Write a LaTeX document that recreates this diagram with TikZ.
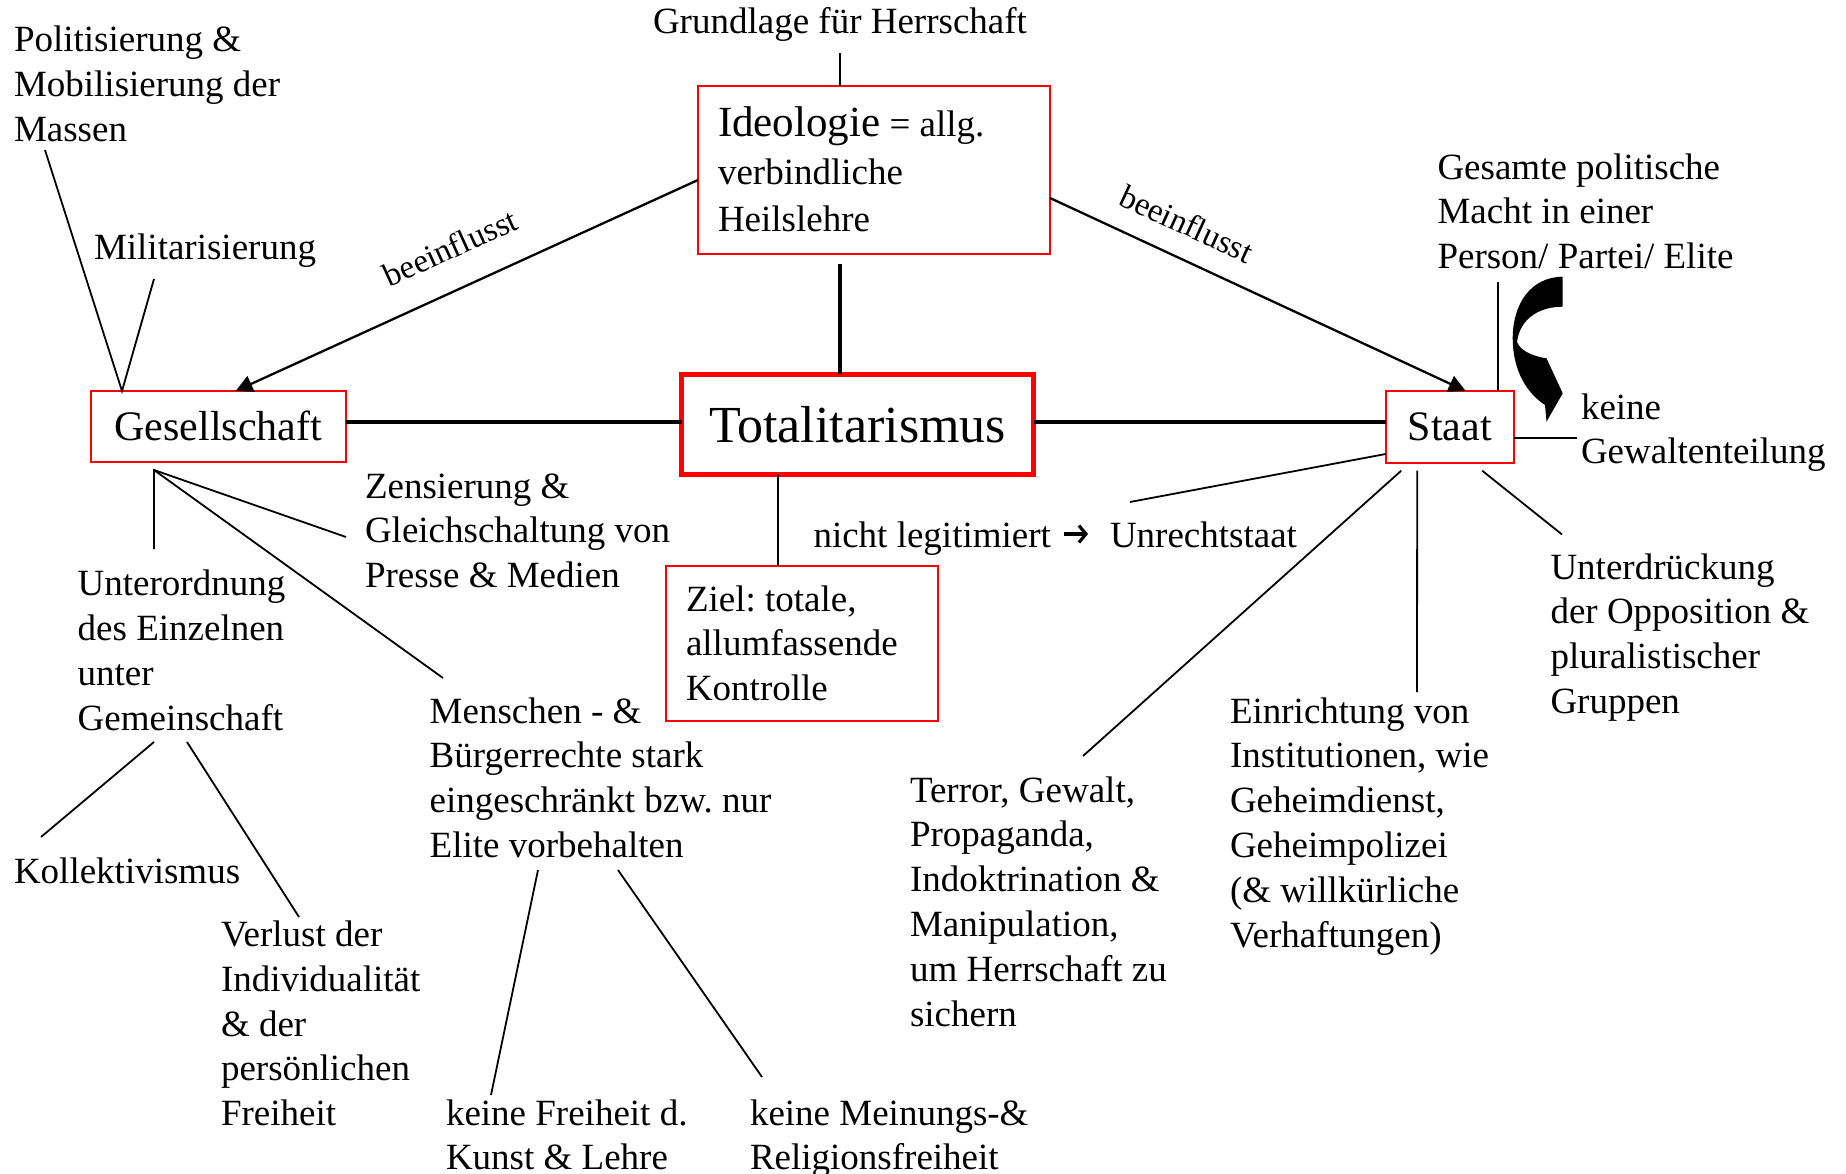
\documentclass[tikz,border=0pt]{standalone}
\usepackage{fontspec}
\setmainfont{Liberation Serif}
\usetikzlibrary{calc,arrows.meta}
\frenchspacing
\begin{document}
\begin{tikzpicture}[x=1pt,y=-1pt,
  txt/.style={inner sep=0pt, outer sep=0pt, anchor=base west, align=left, font=\fontsize{37}{44.8}\selectfont},
  rbox/.style={draw=red, line width=2pt, inner sep=0pt, outer sep=0pt, anchor=north west},
  conn/.style={line width=1.8pt},
  heavy/.style={line width=4.3pt},
  arr/.style={line width=2.3pt, -{Triangle[length=17pt,width=17pt]}},
  larr/.style={line width=3.2pt, -{Straight Barb[length=7pt,width=17pt,line width=3.2pt]}},
  blbl/.style={inner sep=0pt, anchor=base, font=\fontsize{33}{38}\selectfont}]
\useasboundingbox (0,0) rectangle (1846,1174);
\fill[white] (0,0) rectangle (1846,1174);

% boxes
\node[rbox, minimum width=352pt, minimum height=168pt] (ideo) at (698,86) {};
\node[rbox, line width=5pt, minimum width=352pt, minimum height=100pt, font=\fontsize{52}{60}\selectfont] (total) at (681.6,374.4) {Totalitarismus};
\node[rbox, minimum width=255.4pt, minimum height=70.5pt, font=\fontsize{42}{48}\selectfont] (ges) at (90.6,391) {Gesellschaft};
\node[rbox, minimum width=128.3pt, minimum height=71.7pt, font=\fontsize{42}{48}\selectfont] (staat) at (1385.7,391) {Staat};
\node[rbox, minimum width=272pt, minimum height=154.5pt] (ziel) at (666,566) {};

% texts (anchor = baseline of the LAST line)
\node[txt] (grund) at (653,34) {Grundlage für Herrschaft};
\node[txt, font=\fontsize{37}{47.5}\selectfont] (ideot) at (718,232) {{\fontsize{43}{47.5}\selectfont Ideologie} = allg.\\verbindliche\\Heilslehre};
\node[txt] (polit) at (14,141.6) {Politisierung \&\\Mobilisierung der\\Massen};
\node[txt] (milit) at (94,259) {Militarisierung};
\node[txt] (gesamt) at (1437.5,268.6) {Gesamte politische\\Macht in einer\\Person/ Partei/ Elite};
\node[txt] (keine) at (1581,463.8) {keine\\Gewaltenteilung};
\node[txt] (zens) at (365,587.6) {Zensierung \&\\Gleichschaltung von\\Presse \& Medien};
\node[txt] (legitA) at (813.5,547.5) {nicht legitimiert};
\node[txt] (legitB) at (1110,547.5) {Unrechtstaat};
\node[txt] (unter) at (77.7,730.1) {Unterordnung\\des Einzelnen\\unter\\Gemeinschaft};
\node[txt] (zielt) at (686,700.6) {Ziel: totale,\\allumfassende\\Kontrolle};
\node[txt] (unterd) at (1550.5,713.4) {Unterdrückung\\der Opposition \&\\pluralistischer\\Gruppen};
\node[txt] (mensch) at (429.7,857.4) {Menschen - \&\\Bürgerrechte stark\\eingeschränkt bzw. nur\\Elite vorbehalten};
\node[txt] (einr) at (1230,947) {Einrichtung von\\Institutionen, wie\\Geheimdienst,\\Geheimpolizei\\(\& willkürliche\\Verhaftungen)};
\node[txt] (terror) at (910,1026) {Terror, Gewalt,\\Propaganda,\\Indoktrination \&\\Manipulation,\\um Herrschaft zu\\sichern};
\node[txt] (koll) at (14,883) {Kollektivismus};
\node[txt] (verl) at (221,1125.7) {Verlust der\\Individualität\\\& der\\persönlichen\\Freiheit};
\node[txt] (kfrei) at (446,1169.8) {keine Freiheit d.\\Kunst \& Lehre};
\node[txt] (kmein) at (750,1169.8) {keine Meinungs-\&\\Religionsfreiheit};

% beeinflusst labels
\node[blbl, rotate=24.5] (bl1) at (455,258) {beeinflusst};
\node[blbl, rotate=-24.7] (bl2) at (1182,234) {beeinflusst};

% free ends
\coordinate (pA) at (45,150);
\coordinate (mA) at (154,279);
\coordinate (gHub) at (154,470);
\coordinate (uA) at (154,549);
\coordinate (zA) at (346,537);
\coordinate (mnA) at (443,678);
\coordinate (uB1) at (154,742);
\coordinate (kA) at (41,837);
\coordinate (uB2) at (187,742);
\coordinate (vA) at (299,917);
\coordinate (mB1) at (538,870);
\coordinate (kfA) at (491,1095);
\coordinate (mB2) at (618,870);
\coordinate (kmA) at (762,1077);
\coordinate (lA) at (1130,502);
\coordinate (tA) at (1083,756);
\coordinate (eA) at (1417,692);
\coordinate (udA) at (1562,534.5);
\coordinate (gpA) at (1498,282);
\coordinate (kwA) at (1577,438);

% connectors
\draw[conn] ($(grund.base)+(0,19)$) -- (grund.base |- ideo.north);
\draw[heavy] ($(ideo.south -| grund.base)+(0,10)$) -- (total.north -| grund.base);
\draw[heavy] (ges.east |- 0,422) -- (total.west |- 0,422);
\draw[heavy] (total.east |- 0,422) -- (staat.west |- 0,422);
\draw[arr] ($(ideo.west)+(0,10)$) -- ($(ges.north west)+(145,0)$);
\draw[arr] ($(ideo.east)+(0,28)$) -- ($(staat.north west)+(80,0)$);
\draw[larr] ($(legitA.base east)+(13,-13.5)$) -- ($(legitB.base west)+(-22,-13.5)$);

\draw[conn] (pA) -- ($(ges.north west)+(31.4,0)$) -- (mA);
\draw[conn] (uA) -- (gHub) -- (zA);
\draw[conn] (gHub) -- (mnA);
\draw[conn] (uB1) -- (kA);
\draw[conn] (uB2) -- (vA);
\draw[conn] (mB1) -- (kfA);
\draw[conn] (mB2) -- (kmA);
\draw[conn] (total.south -| 778,0) -- (ziel.north -| 778,0);

\draw[conn] (staat.west |- 0,454) -- (lA);
\draw[conn] ($(staat.south west)+(15.5,8)$) -- (tA);
\draw[conn] ($(staat.south west)+(31.5,8)$) -- (eA);
\draw[conn] ($(staat.south west)+(96.5,8)$) -- (udA);
\draw[conn] (gpA) -- (gpA |- staat.north);
\draw[conn] (staat.east |- kwA) -- (kwA);

% curved block arrow
\fill (1562.7,276.7) .. controls (1530,277) and (1512.7,305) .. (1512.7,338)
  .. controls (1512.7,372) and (1528,394) .. (1545,405) -- (1546.5,421.7) -- (1562.7,393.3) -- (1546.5,358.3)
  .. controls (1531,356) and (1520,350) .. (1517,342)
  .. controls (1520,318) and (1540,306.7) .. (1562.7,306.7) -- cycle;
\end{tikzpicture}
\end{document}
